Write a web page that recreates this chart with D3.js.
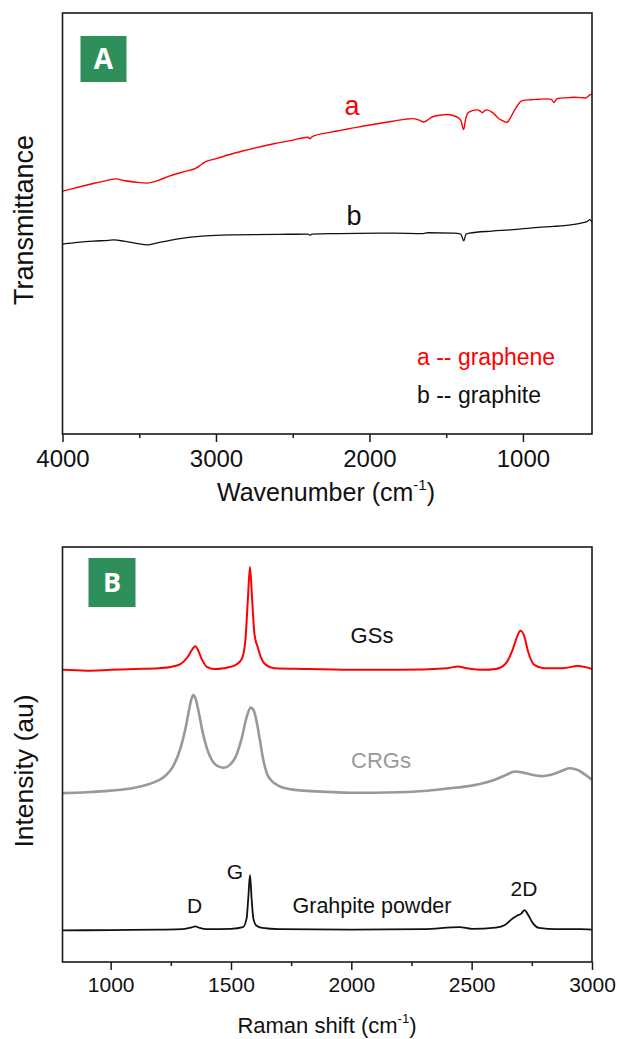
<!DOCTYPE html>
<html><head><meta charset="utf-8">
<script src="https://cdn.jsdelivr.net/npm/d3@7"></script>
<style>
html,body{margin:0;padding:0;background:#fff;}
svg{display:block;font-family:"Liberation Sans",Arial,sans-serif;}
</style></head>
<body>
<svg id="chart" width="617" height="1039"></svg>
<script>
// ---------- Panel A data (FTIR) ----------
const ftirTicksMajor = [4000, 3000, 2000, 1000];
const ftirTicksMinor = [3500, 2500, 1500];
const graphene = [
[4000,57.7],[3900,58.6],[3800,59.5],[3700,60.3],[3650,60.6],[3600,60.2],[3520,59.8],[3448,59.6],[3380,60.2],[3300,61.3],[3200,62.4],[3127,63.2],[3100,63.9],[3076,64.5],[3000,65.4],[2871,66.8],[2750,67.9],[2616,69.0],[2500,69.8],[2400,70.5],[2388,70.1],[2375,70.6],[2250,71.7],[2104,72.7],[2000,73.4],[1900,74.0],[1847,74.3],[1760,74.8],[1719,74.9],[1680,74.6],[1645,74.1],[1620,74.6],[1593,75.3],[1520,75.8],[1489,75.9],[1450,75.6],[1425,75.2],[1405,74.5],[1386,72.3],[1375,74.5],[1360,76.2],[1330,76.8],[1297,77.0],[1275,76.6],[1264,76.3],[1250,76.8],[1233,77.0],[1200,76.4],[1182,75.8],[1160,75.0],[1143,74.6],[1115,74.1],[1105,74.0],[1090,74.6],[1079,75.3],[1050,77.2],[1020,78.8],[1003,79.2],[951,79.4],[900,79.5],[837,79.6],[815,79.5],[798,78.7],[785,79.4],[772,79.7],[700,79.9],[670,80.0],[620,79.9],[593,79.8],[575,80.2],[567,80.5],[550,80.7]
];
const graphite = [
[4000,45.1],[3900,45.5],[3800,45.8],[3700,46.0],[3664,46.1],[3600,45.8],[3520,45.3],[3448,44.9],[3380,45.4],[3300,46.0],[3200,46.6],[3127,46.9],[3000,47.2],[2871,47.3],[2600,47.4],[2400,47.5],[2388,47.2],[2375,47.5],[2200,47.6],[1847,47.7],[1650,47.6],[1620,47.8],[1450,47.7],[1405,47.5],[1386,45.9],[1370,47.5],[1350,47.7],[1200,48.2],[1079,48.5],[900,49.1],[800,49.3],[700,49.6],[620,50.1],[580,50.5],[565,50.9],[550,50.3]
];

// ---------- Panel B data (Raman) ----------
const ramanTicksMajor = [1000, 1500, 2000, 2500, 3000];
const ramanTicksMinor = [1250, 1750, 2250, 2750];
const gss = [
[800,70.4],[900,70.2],[1000,70.4],[1100,70.6],[1200,70.8],[1250,71.1],[1290,71.8],[1320,73.5],[1340,75.4],[1352,76.1],[1365,74.9],[1380,72.8],[1400,71.1],[1430,70.6],[1470,70.8],[1520,71.6],[1545,73.0],[1560,77.6],[1570,87.2],[1579,95.2],[1588,87.2],[1598,78.8],[1612,75.7],[1625,73.3],[1645,71.6],[1680,70.8],[1800,70.6],[2000,70.4],[2200,70.4],[2400,70.8],[2442,71.2],[2480,70.8],[2550,70.4],[2600,70.6],[2640,71.8],[2670,75.2],[2690,78.6],[2703,79.8],[2718,78.6],[2735,74.7],[2760,71.6],[2800,70.8],[2880,70.8],[2940,71.3],[3000,70.6]
];
const crgs = [
[800,40.7],[900,40.9],[1000,41.3],[1100,42.0],[1150,42.7],[1200,43.8],[1230,45.0],[1260,47.2],[1290,51.5],[1310,56.0],[1325,60.5],[1335,63.2],[1343,64.3],[1352,63.6],[1365,60.5],[1380,56.0],[1400,51.5],[1420,48.7],[1445,47.2],[1471,46.8],[1495,47.5],[1520,49.5],[1545,54.0],[1565,59.0],[1582,61.3],[1595,60.5],[1608,57.5],[1620,53.5],[1635,48.5],[1650,45.3],[1670,43.6],[1700,42.4],[1750,41.6],[1800,41.3],[1900,41.0],[2000,40.8],[2100,40.8],[2200,40.9],[2300,41.2],[2400,41.8],[2500,42.5],[2580,43.6],[2640,45.0],[2680,45.9],[2710,45.7],[2750,45.1],[2793,44.8],[2840,45.3],[2880,46.2],[2907,46.7],[2940,46.3],[2970,45.2],[3000,43.9]
];
const graphitePowder = [
[800,7.6],[1000,7.7],[1200,7.8],[1300,7.9],[1335,8.3],[1352,8.6],[1370,8.2],[1400,7.9],[1500,8.0],[1550,8.4],[1565,10.5],[1572,15.5],[1579,21.0],[1586,15.0],[1593,10.5],[1605,8.8],[1630,8.2],[1700,7.9],[2000,7.8],[2300,7.9],[2450,8.4],[2500,8.0],[2600,8.3],[2640,9.0],[2670,10.5],[2690,11.2],[2705,11.6],[2720,12.5],[2735,11.3],[2755,9.3],[2780,8.2],[2850,7.9],[2950,7.9],[3000,7.8]
];

const svg = d3.select("#chart");
const GREEN = "#2f8f5b";
const AXIS = "#1a1a1a";

function drawPanel(cfg){
  const g = svg.append("g");
  const x = d3.scaleLinear().domain(cfg.xDomain).range([cfg.left, cfg.right]);
  const y = d3.scaleLinear().domain([0,100]).range([cfg.bottom, cfg.top]);

  const line = d3.line().x(d=>x(d[0])).y(d=>y(d[1])).curve(d3.curveMonotoneX);
  cfg.series.forEach(s=>{
    g.append("path").datum(s.data).attr("d", line)
      .attr("fill","none").attr("stroke", s.color).attr("stroke-width", s.width)
      .attr("stroke-linejoin","round");
  });

  g.append("rect").attr("x",cfg.left).attr("y",cfg.top)
    .attr("width",cfg.right-cfg.left).attr("height",cfg.bottom-cfg.top)
    .attr("fill","none").attr("stroke",AXIS).attr("stroke-width",1.6);

  const minor = g.append("g").attr("transform",`translate(0,${cfg.bottom})`)
    .call(d3.axisBottom(x).tickValues(cfg.minor).tickSize(4).tickFormat(""));
  minor.select(".domain").remove();
  minor.selectAll("line").attr("stroke",AXIS).attr("stroke-width",1.5);

  const major = g.append("g").attr("transform",`translate(0,${cfg.bottom})`)
    .call(d3.axisBottom(x).tickValues(cfg.major).tickSize(8).tickFormat(d3.format("d")));
  major.select(".domain").remove();
  major.selectAll("line").attr("stroke",AXIS).attr("stroke-width",1.5);
  major.selectAll("text").attr("y", cfg.tickLabelOffset).attr("dy",0)
    .attr("font-size", cfg.tickFont).attr("fill","#111")
    .attr("font-family",'"Liberation Sans",Arial,sans-serif');

  const xt = g.append("text").attr("x", cfg.xTitleX).attr("y", cfg.xTitleY)
    .attr("text-anchor","middle").attr("font-size", cfg.titleFont).attr("fill","#111");
  xt.append("tspan").text(cfg.xTitle + " (cm");
  xt.append("tspan").text("-1").attr("font-size", cfg.titleFont*0.6).attr("dy", -cfg.titleFont*0.45);
  xt.append("tspan").text(")").attr("dy", cfg.titleFont*0.45);

  g.append("text").attr("transform",`translate(${cfg.yTitleX},${cfg.yTitleY}) rotate(-90)`)
    .attr("text-anchor","middle").attr("font-size", cfg.yTitleFont).attr("fill","#111")
    .text(cfg.yTitle);

  g.append("rect").attr("x",cfg.box[0]).attr("y",cfg.box[1]).attr("width",cfg.box[2]).attr("height",cfg.box[3]).attr("fill",GREEN);
  g.append("text").attr("x",cfg.box[0]+cfg.box[2]/2).attr("y",cfg.box[1]+cfg.box[3]/2+cfg.letterFont*0.36)
    .attr("text-anchor","middle").attr("font-family",'"Open Sans",sans-serif').attr("font-weight","bold")
    .attr("font-size",cfg.letterFont).attr("fill","#fff").text(cfg.letter);

  cfg.labels.forEach(l=>{
    g.append("text").attr("x",l.x).attr("y",l.y).attr("text-anchor",l.anchor||"middle")
      .attr("font-size",l.size).attr("fill",l.color).text(l.text);
  });
  return {x,y};
}

drawPanel({
  xDomain:[4000,550], left:62.5, right:592, top:13, bottom:434,
  major: ftirTicksMajor, minor: ftirTicksMinor, tickFont:24, tickLabelOffset:33,
  xTitle:"Wavenumber", xTitleX:326, xTitleY:501, titleFont:25,
  yTitle:"Transmittance", yTitleX:33, yTitleY:220, yTitleFont:27,
  box:[80.5,36,46,46], letter:"A", letterFont:28,
  series:[
    {data:graphene, color:"#ff0000", width:1.4},
    {data:graphite, color:"#111111", width:1.3}
  ],
  labels:[
    {text:"a", x:352, y:115, size:27, color:"#ff0000"},
    {text:"b", x:354, y:225, size:27, color:"#111"},
    {text:"a -- graphene", x:417, y:365, size:23, color:"#ff0000", anchor:"start"},
    {text:"b -- graphite", x:417, y:403, size:23, color:"#111", anchor:"start"}
  ]
});

drawPanel({
  xDomain:[800,3000], left:62.5, right:592, top:547, bottom:962,
  major: ramanTicksMajor, minor: ramanTicksMinor, tickFont:21, tickLabelOffset:30,
  xTitle:"Raman shift", xTitleX:327, xTitleY:1033, titleFont:22,
  yTitle:"Intensity (au)", yTitleX:33, yTitleY:771, yTitleFont:26.5,
  box:[88.5,558,47,49], letter:"B", letterFont:27,
  series:[
    {data:crgs, color:"#999999", width:2.6},
    {data:gss, color:"#ff0000", width:2},
    {data:graphitePowder, color:"#111111", width:1.8}
  ],
  labels:[
    {text:"GSs", x:372, y:643, size:22, color:"#111"},
    {text:"CRGs", x:381, y:768, size:22, color:"#999999"},
    {text:"D", x:194.5, y:913, size:21, color:"#111"},
    {text:"G", x:235, y:879, size:21, color:"#111"},
    {text:"Grahpite powder", x:292.5, y:913, size:21.5, color:"#111", anchor:"start"},
    {text:"2D", x:524, y:896, size:21, color:"#111"}
  ]
});
</script>
</body></html>
